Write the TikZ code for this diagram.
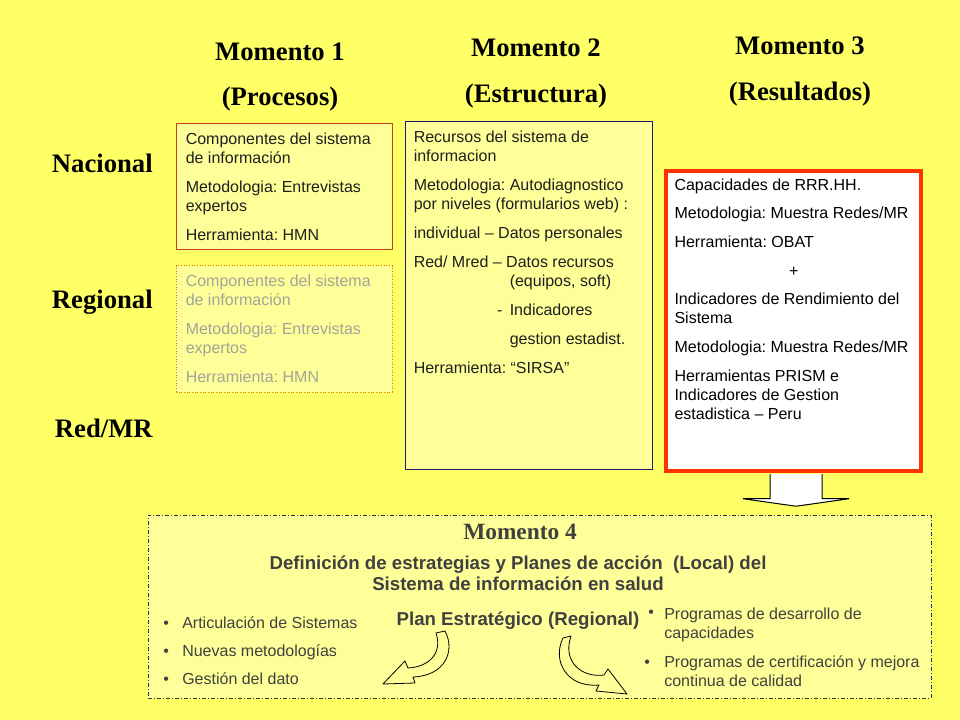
\documentclass[tikz,border=0pt]{standalone}
\usepackage{fontspec}
\setmainfont{Liberation Sans}
\newfontfamily\headfont{Liberation Serif}
\usepackage{xcolor}
\usepackage{tikz}
\usetikzlibrary{positioning,fit,calc}
\frenchspacing
\definecolor{slideyellow}{HTML}{FFFF66}
\definecolor{paleyellow}{HTML}{FFFF99}
\definecolor{procred}{HTML}{C8401A}
\definecolor{regorange}{HTML}{E07020}
\definecolor{estrnavy}{HTML}{1A1A6E}
\definecolor{resred}{HTML}{FF3300}
\definecolor{fadetext}{HTML}{A3A39A}
\definecolor{darktext}{HTML}{404040}
\tikzset{
  headlbl/.style={font=\headfont\bfseries\fontsize{20}{24}\selectfont, inner sep=0pt, anchor=base},
  lvllbl/.style={headlbl, anchor=base east},
  mbox/.style={rectangle, inner sep=0pt, fill=paleyellow, line width=0.75pt},
  procbox/.style={mbox, draw=procred},
  regbox/.style={mbox, draw=regorange, dash pattern=on 0.8pt off 1.2pt},
  estrbox/.style={mbox, draw=estrnavy},
  resbox/.style={mbox, fill=white, draw=resred, line width=2.6pt},
  m4box/.style={mbox, draw=black!80, dash pattern=on 3pt off 1.5pt on 0.75pt off 1.5pt},
  boxtxt/.style={anchor=north west, inner sep=0pt, align=left, text=black!88,
    font=\fontsize{12}{14.25}\selectfont},
  fadetxt/.style={boxtxt, text=fadetext},
  m4title/.style={font=\headfont\bfseries\fontsize{17.5}{21}\selectfont, text=darktext,
    inner sep=0pt, anchor=base},
  m4txt/.style={font=\bfseries\fontsize{14}{15.75}\selectfont, text=darktext,
    inner sep=0pt, align=center},
  listtxt/.style={boxtxt, text=darktext},
  blockarrow/.style={draw=black, fill=white, line width=0.75pt, line join=miter},
  curvarrow/.style={draw=black, line width=0.6pt, line join=round},
}
\begin{document}
\begin{tikzpicture}[x=0.75pt, y=-0.75pt]
  \useasboundingbox (0,0) rectangle (960,720);
  \fill[slideyellow] (0,0) rectangle (960,720);

  \node[headlbl] (m1) at (280,61) {Momento 1};
  \node[headlbl] (m1b) at ([yshift=-33.5pt]m1.base) {(Procesos)};
  \node[headlbl] (m2) at (536,57) {Momento 2};
  \node[headlbl] (m2b) at ([yshift=-34.5pt]m2.base) {(Estructura)};
  \node[headlbl] (m3) at (800,55) {Momento 3};
  \node[headlbl] (m3b) at ([yshift=-34.5pt]m3.base) {(Resultados)};

  \node[lvllbl] (nac) at (153,173) {Nacional};
  \node[lvllbl] (reg) at (153,308) {Regional};
  \node[lvllbl] (red) at (153,437) {Red/MR};

  \node[procbox, fit={(176,124) (392,250)}] (proc) {};
  \node[boxtxt] (proctxt) at ([shift={(10,9)}]proc.north west)
    {Componentes del sistema\\de información\\[7.5pt]Metodologia: Entrevistas\\expertos\\[7.5pt]Herramienta: HMN};
  \node[regbox, fit={(176,266) (392,392)}] (regp) {};
  \node[fadetxt] (regtxt) at ([shift={(10,9)}]regp.north west)
    {Componentes del sistema\\de información\\[7.5pt]Metodologia: Entrevistas\\expertos\\[7.5pt]Herramienta: HMN};

  \node[estrbox, fit={(405,122) (652,469)}] (estr) {};
  \node[boxtxt] (estrtxt) at ([shift={(9,9.5)}]estr.north west)
    {Recursos del sistema de\\informacion\\[7.5pt]Metodologia: Autodiagnostico\\por niveles (formularios web) :\\[7.5pt]individual – Datos personales\\[7.5pt]Red/ Mred – Datos recursos\\\hspace*{72pt}(equipos, soft)\\[7.5pt]\hspace*{72pt}\llap{-\hspace{5.5pt}}Indicadores\\[7.5pt]\hspace*{72pt}gestion estadist.\\[7.5pt]Herramienta: “SIRSA”};

  \node[resbox, fit={(666,171) (921,471)}] (res) {};
  \node[boxtxt, text=black] (restxt) at ([shift={(10,9)}]res.north west)
    {Capacidades de RRR.HH.\\[6.75pt]Metodologia: Muestra Redes/MR\\[7.5pt]Herramienta: OBAT\\[7.5pt]\hspace*{86pt}+\\[7pt]Indicadores de Rendimiento del\\Sistema\\[7.5pt]Metodologia: Muestra Redes/MR\\[7.5pt]Herramientas PRISM e\\Indicadores de Gestion\\estadistica – Peru};
  \draw[blockarrow] ($(res.south)+(-23.5,1.3)$) -- ++(0,24.7) -- ++(-27,0) -- ++(53,7.5)
    -- ++(53,-7.5) -- ++(-27,0) -- ++(0,-24.7);

  \node[m4box, fit={(148,515) (931,698)}] (m4) {};
  \node[m4title] (m4t) at (520,539) {Momento 4};
  \node[m4txt, anchor=north] (m4def) at (518,555.5)
    {Definición de estrategias y Planes de acción~ (Local) del\\Sistema de información en salud};
  \node[m4txt, anchor=base] (plan) at (518,625) {Plan Estratégico (Regional)};
  \node[listtxt] (leftlist) at (163,616)
    {\makebox[14.25pt][l]{\textbullet}Articulación de Sistemas\\[7.1pt]\makebox[14.25pt][l]{\textbullet}Nuevas metodologías\\[7.1pt]\makebox[14.25pt][l]{\textbullet}Gestión del dato};
  \node[listtxt] (rightlist) at (644,608)
    {\makebox[15pt][l]{\hspace{3pt}\raisebox{2pt}[0pt][0pt]{\textbullet}}Programas de desarrollo de\\\hspace*{15pt}capacidades\\[7.1pt]\makebox[15pt][l]{\textbullet}Programas de certificación y mejora\\\hspace*{15pt}continua de calidad};

  \draw[curvarrow] (445,631) .. controls (456,652) and (444,676) .. (413,677) -- (415,683)
    -- (383,684) -- (405,661) -- (408,668) .. controls (428,667) and (443,654) .. (436,633) -- cycle;
  \draw[curvarrow] (563,638) .. controls (552,660) and (566,688) .. (599,685) -- (596,691)
    -- (627,694) -- (608,669) -- (604,675) .. controls (582,678) and (562,662) .. (571,636) -- cycle;
\end{tikzpicture}
\end{document}
